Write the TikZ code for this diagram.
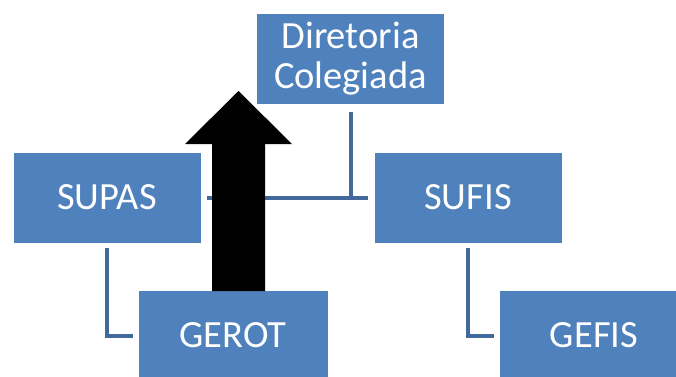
\documentclass[tikz,border=0pt]{standalone}
\usepackage{fontspec}
\setmainfont{Carlito}
\definecolor{boxblue}{HTML}{4F81BD}
\definecolor{lineblue}{HTML}{41699C}
\begin{document}
\begin{tikzpicture}[x=1pt,y=-1pt,
  box/.style={draw=white,line width=0.6pt,fill=boxblue,text=white,align=center,
    inner sep=0pt,minimum width=188pt,minimum height=91pt,
    font=\fontsize{38.5}{40}\selectfont},
  conn/.style={draw=lineblue,line width=4pt}]
\useasboundingbox (0,0) rectangle (676,376);
\node[box] (dir) at (350.5,59) {Diretoria\\Colegiada};
\node[box] (supas) at (107,197.5) {SUPAS};
\node[box] (sufis) at (468,197.5) {SUFIS};
\node[box,minimum width=190pt] (gerot) at (233,335.5) {GEROT};
\node[box,minimum width=190pt] (gefis) at (594,335.5) {GEFIS};
\coordinate (j) at (dir.south |- supas.east);
\draw[conn,shorten <=7pt] (dir.south) -- (j);
\draw[conn,shorten <=6pt,shorten >=6pt] (supas.east) -- (sufis.west);
\draw[conn,shorten <=5pt,shorten >=5pt] (supas.south) |- (gerot.west);
\draw[conn,shorten <=5pt,shorten >=5pt] (sufis.south) |- (gefis.west);
\fill[black] (212,291) -- (212,144) -- (185,144) -- (238.5,91) -- (292,144) -- (265,144) -- (265,291) -- cycle;
\end{tikzpicture}
\end{document}
